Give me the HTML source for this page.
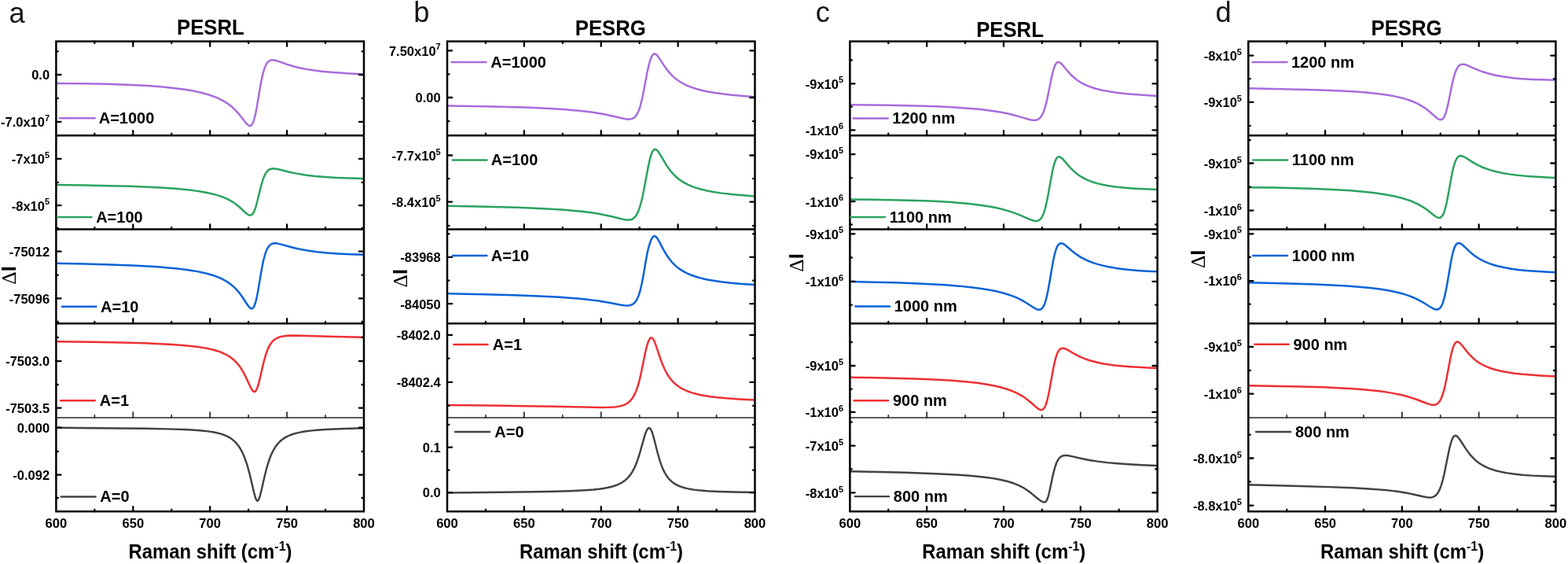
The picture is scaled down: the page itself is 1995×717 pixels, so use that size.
<!DOCTYPE html>
<html><head><meta charset="utf-8"><title>Figure</title><style>html,body{margin:0;padding:0;background:#fff;}svg{display:block;}</style></head><body>
<svg width="1995" height="717" viewBox="0 0 1995 717">
<style>.t{font-family:'Liberation Sans', Arial, Helvetica, sans-serif;font-weight:bold;fill:#000}.r{font-family:'Liberation Sans', Arial, Helvetica, sans-serif;font-weight:normal;fill:#1a1414}</style>
<rect width="1995" height="717" fill="#ffffff"/>
<defs><clipPath id="ca0"><rect x="71.4" y="42.6" width="391.6" height="139.6"/></clipPath><clipPath id="ca1"><rect x="71.4" y="162.2" width="391.6" height="139.3"/></clipPath><clipPath id="ca2"><rect x="71.4" y="281.5" width="391.6" height="139.8"/></clipPath><clipPath id="ca3"><rect x="71.4" y="401.3" width="391.6" height="139.5"/></clipPath><clipPath id="ca4"><rect x="71.4" y="520.8" width="391.6" height="139.4"/></clipPath></defs>
<path d="M71.4 105.99 L104.65 106.25 L134.4 106.81 L160.9 107.67 L184.15 108.83 L194.65 109.53 L204.65 110.32 L213.9 111.18 L222.65 112.14 L230.9 113.21 L238.4 114.34 L245.4 115.57 L251.9 116.89 L257.65 118.25 L262.9 119.67 L267.9 121.22 L272.4 122.82 L276.9 124.65 L280.9 126.53 L284.65 128.53 L288.15 130.67 L290.9 132.56 L293.65 134.67 L296.15 136.8 L298.65 139.15 L301.4 142.01 L304.15 145.18 L306.65 148.31 L311.65 154.85 L313.65 157.22 L314.9 158.47 L315.9 159.25 L316.9 159.78 L317.9 159.98 L318.9 159.77 L319.65 159.29 L320.4 158.49 L321.15 157.34 L321.9 155.81 L322.65 153.88 L324.15 148.74 L325.4 143.22 L326.65 136.72 L330.65 113.04 L332.4 103.45 L334.15 95.33 L335.65 89.73 L336.4 87.39 L337.4 84.73 L338.15 83.05 L339.15 81.19 L340.15 79.71 L341.15 78.56 L342.15 77.7 L343.4 76.95 L344.9 76.44 L346.4 76.25 L348.15 76.33 L350.15 76.68 L354.15 77.87 L366.65 82.32 L374.65 84.7 L379.65 85.94 L384.9 87.07 L390.65 88.14 L396.65 89.08 L409.15 90.65 L423.9 92.03 L441.4 93.24 L462.9 94.39" fill="none" stroke="#a86cdc" stroke-width="2.5" stroke-linejoin="round" clip-path="url(#ca0)"/>
<path d="M71.4 235.07 L108.4 235.56 L139.15 236.14 L165.65 236.86 L188.4 237.72 L208.4 238.78 L225.9 240.05 L240.9 241.53 L247.65 242.37 L253.9 243.28 L259.4 244.2 L264.4 245.16 L269.15 246.21 L273.65 247.36 L277.9 248.61 L281.65 249.87 L285.4 251.32 L288.9 252.86 L291.65 254.24 L294.15 255.63 L296.65 257.16 L298.9 258.69 L301.65 260.75 L304.4 263.02 L311.9 269.97 L314.15 271.87 L315.4 272.73 L316.4 273.26 L317.4 273.6 L318.4 273.69 L319.4 273.48 L320.15 273.1 L320.9 272.48 L321.65 271.62 L322.4 270.48 L323.15 269.07 L324.4 266.06 L325.65 262.27 L326.9 257.81 L331.15 240.39 L332.9 233.75 L334.65 228.11 L336.15 224.19 L337.9 220.66 L338.9 219.1 L339.9 217.83 L340.9 216.81 L341.9 216.02 L342.9 215.42 L344.15 214.88 L345.65 214.51 L347.15 214.35 L348.9 214.38 L351.15 214.64 L355.4 215.51 L369.15 218.93 L377.4 220.64 L382.9 221.6 L388.4 222.43 L400.65 223.9 L413.65 225.02 L428.15 225.9 L444.65 226.54 L462.9 226.95" fill="none" stroke="#2aa35f" stroke-width="2.5" stroke-linejoin="round" clip-path="url(#ca1)"/>
<path d="M71.4 334.76 L108.9 335.48 L141.15 336.38 L169.15 337.48 L193.4 338.81 L204.15 339.56 L214.15 340.38 L223.4 341.28 L231.9 342.24 L239.65 343.26 L246.9 344.39 L253.65 345.63 L259.65 346.91 L264.9 348.23 L269.9 349.68 L274.4 351.2 L278.65 352.87 L282.65 354.69 L286.15 356.53 L289.65 358.65 L292.9 360.92 L295.4 362.91 L297.9 365.13 L300.15 367.36 L302.4 369.83 L304.9 372.88 L307.4 376.27 L314.15 386.5 L316.15 389.3 L317.4 390.75 L318.4 391.64 L319.4 392.2 L320.15 392.34 L320.9 392.21 L321.65 391.76 L322.4 390.94 L323.15 389.73 L323.9 388.08 L324.65 385.98 L325.9 381.48 L326.9 377.01 L328.15 370.52 L332.15 346.85 L333.65 338.61 L335.4 330.35 L337.15 323.75 L337.9 321.43 L338.9 318.76 L339.9 316.54 L340.9 314.73 L341.9 313.26 L342.9 312.1 L344.15 311.01 L345.4 310.24 L347.15 309.6 L348.9 309.33 L350.9 309.33 L353.15 309.61 L357.65 310.64 L371.65 314.52 L380.15 316.49 L385.65 317.56 L391.4 318.54 L397.4 319.41 L403.65 320.19 L415.9 321.42 L429.65 322.43 L445.15 323.24 L462.9 323.87" fill="none" stroke="#0863d8" stroke-width="2.5" stroke-linejoin="round" clip-path="url(#ca2)"/>
<path d="M71.4 434.22 L117.65 434.82 L154.65 435.52 L184.65 436.37 L209.15 437.4 L219.65 438 L229.15 438.66 L237.9 439.41 L245.65 440.22 L252.65 441.12 L259.15 442.12 L265.15 443.26 L270.4 444.46 L275.15 445.78 L279.4 447.18 L283.4 448.76 L287.15 450.52 L290.65 452.49 L293.9 454.66 L296.9 457.03 L299.65 459.58 L301.65 461.71 L303.65 464.12 L305.65 466.82 L307.4 469.47 L309.4 472.84 L311.65 477.07 L313.65 481.2 L317.9 490.47 L319.9 494.36 L320.9 495.93 L321.9 497.12 L322.9 497.84 L323.65 498 L324.4 497.8 L324.9 497.46 L325.9 496.22 L326.9 494.24 L328.15 490.79 L329.15 487.35 L330.15 483.43 L334.15 465.92 L336.15 457.83 L338.4 450.13 L339.4 447.24 L340.65 444.05 L341.9 441.31 L343.15 438.96 L344.4 436.97 L345.9 434.97 L347.4 433.34 L348.9 432.01 L350.65 430.76 L352.4 429.78 L354.15 429.01 L356.15 428.34 L358.15 427.82 L360.4 427.4 L365.65 426.83 L372.4 426.6 L383.15 426.72 L426.9 428.02 L462.9 428.77" fill="none" stroke="#ee3033" stroke-width="2.5" stroke-linejoin="round" clip-path="url(#ca3)"/>
<path d="M71.4 543.72 L147.9 544.41 L184.65 544.83 L213.15 545.36 L234.15 546.03 L243.4 546.48 L251.65 547.03 L258.9 547.66 L265.15 548.39 L270.9 549.27 L275.9 550.26 L280.4 551.41 L284.4 552.71 L288.4 554.36 L291.9 556.2 L295.15 558.35 L297.9 560.6 L300.65 563.37 L303.15 566.46 L305.4 569.8 L307.65 573.81 L309.65 578.02 L311.4 582.29 L313.4 587.92 L315.15 593.53 L317.9 603.68 L323.15 625.95 L324.9 632.31 L325.65 634.33 L326.4 635.76 L327.15 636.51 L327.65 636.6 L327.9 636.53 L328.4 636.13 L329.15 634.97 L329.9 633.18 L330.65 630.88 L332.15 625.18 L336.4 606.54 L338.9 596.54 L340.15 592.08 L341.65 587.24 L343.15 582.92 L344.65 579.1 L346.15 575.72 L347.9 572.28 L349.65 569.29 L351.65 566.37 L353.65 563.88 L355.9 561.51 L358.15 559.5 L360.65 557.63 L363.4 555.91 L366.4 554.36 L369.65 552.98 L373.15 551.77 L377.15 550.64 L381.4 549.67 L386.15 548.79 L391.4 548.02 L397.15 547.35 L403.4 546.76 L418.65 545.74 L437.9 544.92 L462.9 544.21" fill="none" stroke="#424242" stroke-width="2.45" stroke-linejoin="round" clip-path="url(#ca4)"/>
<line x1="71.4" y1="172.2" x2="463" y2="172.2" stroke="#000" stroke-width="2.5"/>
<line x1="71.4" y1="291.5" x2="463" y2="291.5" stroke="#000" stroke-width="2.5"/>
<line x1="71.4" y1="411.3" x2="463" y2="411.3" stroke="#000" stroke-width="2.5"/>
<line x1="71.4" y1="531" x2="463" y2="531" stroke="#262626" stroke-width="1.7"/>
<rect x="71.4" y="52.6" width="391.6" height="597.6" fill="none" stroke="#000" stroke-width="2.5"/>
<path d="M120.35 172.2V169.75M169.3 172.2V166.05M218.25 172.2V169.75M267.2 172.2V166.05M316.15 172.2V169.75M365.1 172.2V166.05M414.05 172.2V169.75M120.35 52.6V55.05M169.3 52.6V58.75M218.25 52.6V55.05M267.2 52.6V58.75M316.15 52.6V55.05M365.1 52.6V58.75M414.05 52.6V55.05M120.35 291.5V289.05M169.3 291.5V285.35M218.25 291.5V289.05M267.2 291.5V285.35M316.15 291.5V289.05M365.1 291.5V285.35M414.05 291.5V289.05M120.35 411.3V408.85M169.3 411.3V405.15M218.25 411.3V408.85M267.2 411.3V405.15M316.15 411.3V408.85M365.1 411.3V405.15M414.05 411.3V408.85M120.35 650.2V647.75M169.3 650.2V644.05M218.25 650.2V647.75M267.2 650.2V644.05M316.15 650.2V647.75M365.1 650.2V644.05M414.05 650.2V647.75M71.4 65.3H73.85M463 65.3H460.55M71.4 95H77.55M463 95H456.85M71.4 125H73.85M463 125H460.55M71.4 154.8H77.55M463 154.8H456.85M71.4 172.2H73.85M463 172.2H460.55M71.4 201.9H77.55M463 201.9H456.85M71.4 231.9H73.85M463 231.9H460.55M71.4 261.2H77.55M463 261.2H456.85M71.4 291H73.85M463 291H460.55M71.4 290H73.85M463 290H460.55M71.4 319.7H77.55M463 319.7H456.85M71.4 349.7H73.85M463 349.7H460.55M71.4 379.3H77.55M463 379.3H456.85M71.4 409H73.85M463 409H460.55M71.4 429H73.85M463 429H460.55M71.4 459.1H77.55M463 459.1H456.85M71.4 489H73.85M463 489H460.55M71.4 518.6H77.55M463 518.6H456.85M71.4 543.7H77.55M463 543.7H456.85M71.4 574H73.85M463 574H460.55M71.4 603.6H77.55M463 603.6H456.85M71.4 633H73.85M463 633H460.55" stroke="#000" stroke-width="2.3" fill="none" stroke-linecap="round"/>
<path d="M120.35 531V527.8M169.3 531V524.1M218.25 531V527.8M267.2 531V524.1M316.15 531V527.8M365.1 531V524.1M414.05 531V527.8" stroke="#262626" stroke-width="1.7" fill="none" stroke-linecap="round"/>
<text class="t" transform="matrix(1 0 0 1.04 0 -4.06)" x="63.1" y="101.4" font-size="16.5" text-anchor="end">0.0</text>
<text class="t" transform="matrix(1 0 0 1.04 0 -6.45)" x="63.1" y="161.2" font-size="16.5" text-anchor="end">-7.0x10<tspan dy="-7" font-size="11">7</tspan></text>
<text class="t" transform="matrix(1 0 0 1.04 0 -8.33)" x="63.1" y="208.3" font-size="16.5" text-anchor="end">-7x10<tspan dy="-7" font-size="11">5</tspan></text>
<text class="t" transform="matrix(1 0 0 1.04 0 -10.7)" x="63.1" y="267.6" font-size="16.5" text-anchor="end">-8x10<tspan dy="-7" font-size="11">5</tspan></text>
<text class="t" transform="matrix(1 0 0 1.04 0 -13.04)" x="63.1" y="326.1" font-size="16.5" text-anchor="end">-75012</text>
<text class="t" transform="matrix(1 0 0 1.04 0 -15.43)" x="63.1" y="385.7" font-size="16.5" text-anchor="end">-75096</text>
<text class="t" transform="matrix(1 0 0 1.04 0 -18.62)" x="63.1" y="465.5" font-size="16.5" text-anchor="end">-7503.0</text>
<text class="t" transform="matrix(1 0 0 1.04 0 -21)" x="63.1" y="525" font-size="16.5" text-anchor="end">-7503.5</text>
<text class="t" transform="matrix(1 0 0 1.04 0 -22)" x="63.1" y="550.1" font-size="16.5" text-anchor="end">0.000</text>
<text class="t" transform="matrix(1 0 0 1.04 0 -24.4)" x="63.1" y="610" font-size="16.5" text-anchor="end">-0.092</text>
<line x1="75.85" y1="150.3" x2="120.55" y2="150.3" stroke="#a86cdc" stroke-width="2.5" stroke-linecap="round"/>
<text class="t" transform="matrix(1 0 0 1.04 0 -6.29)" x="125.7" y="157.2" font-size="20">A=1000</text>
<line x1="72.95" y1="276" x2="116.45" y2="276" stroke="#2aa35f" stroke-width="2.5" stroke-linecap="round"/>
<text class="t" transform="matrix(1 0 0 1.04 0 -11.32)" x="122.2" y="282.9" font-size="20">A=100</text>
<line x1="78.85" y1="389.7" x2="122.35" y2="389.7" stroke="#0863d8" stroke-width="2.5" stroke-linecap="round"/>
<text class="t" transform="matrix(1 0 0 1.04 0 -15.86)" x="128.1" y="396.6" font-size="20">A=10</text>
<line x1="77.15" y1="509.3" x2="120.65" y2="509.3" stroke="#ee3033" stroke-width="2.5" stroke-linecap="round"/>
<text class="t" transform="matrix(1 0 0 1.04 0 -20.65)" x="126.8" y="516.2" font-size="20">A=1</text>
<line x1="77.62" y1="631.4" x2="121.48" y2="631.4" stroke="#424242" stroke-width="2.45" stroke-linecap="round"/>
<text class="t" transform="matrix(1 0 0 1.04 0 -25.53)" x="127.3" y="638.3" font-size="20">A=0</text>
<text class="t" transform="matrix(1 0 0 1.04 0 -26.86)" x="71.4" y="671.5" font-size="16.6" text-anchor="middle">600</text>
<text class="t" transform="matrix(1 0 0 1.04 0 -26.86)" x="169.3" y="671.5" font-size="16.6" text-anchor="middle">650</text>
<text class="t" transform="matrix(1 0 0 1.04 0 -26.86)" x="267.2" y="671.5" font-size="16.6" text-anchor="middle">700</text>
<text class="t" transform="matrix(1 0 0 1.04 0 -26.86)" x="365.1" y="671.5" font-size="16.6" text-anchor="middle">750</text>
<text class="t" transform="matrix(1 0 0 1.04 0 -26.86)" x="463" y="671.5" font-size="16.6" text-anchor="middle">800</text>
<text class="t" transform="matrix(1 0 0 1.04 0 -28.4)" x="267.5" y="710" font-size="23.9" text-anchor="middle">Raman shift (cm<tspan dy="-9.6" font-size="16.01">-1</tspan><tspan dy="9.6">)</tspan></text>
<text class="t" transform="matrix(1 0 0 1.04 0 -1.75)" x="267.85" y="43.7" font-size="25.7" text-anchor="middle">PESRL</text>
<text class="r" transform="matrix(1 0 0 1 0 -0)" x="11.48" y="28.6" font-size="36.3">a</text>
<text transform="translate(20.2 349.9) rotate(-90)" text-anchor="middle" font-size="25.5" font-family="'Liberation Sans', Arial, Helvetica, sans-serif"><tspan font-family="'Liberation Serif', 'Times New Roman', serif">Δ</tspan><tspan font-weight="bold" font-size="25.5">I</tspan></text>
<defs><clipPath id="cb0"><rect x="569" y="42.6" width="391.5" height="139.6"/></clipPath><clipPath id="cb1"><rect x="569" y="162.2" width="391.5" height="139.3"/></clipPath><clipPath id="cb2"><rect x="569" y="281.5" width="391.5" height="139.8"/></clipPath><clipPath id="cb3"><rect x="569" y="401.3" width="391.5" height="139.5"/></clipPath><clipPath id="cb4"><rect x="569" y="520.8" width="391.5" height="139.4"/></clipPath></defs>
<path d="M569 134.58 L616.75 135.3 L656.75 136.28 L674 136.87 L689.75 137.54 L704 138.28 L717 139.11 L727.5 139.93 L737 140.81 L745.75 141.76 L754 142.83 L763 144.22 L771.5 145.79 L779 147.41 L791.25 150.32 L795.25 151.13 L797.75 151.47 L799.75 151.58 L801.5 151.5 L803.25 151.19 L804.75 150.68 L806.25 149.86 L807.5 148.89 L808.75 147.59 L810 145.89 L811 144.18 L812.25 141.56 L813.25 139.01 L814.25 136.03 L815.25 132.58 L817 125.41 L818.75 116.95 L823.5 91.83 L825 84.93 L826.25 79.99 L827.25 76.64 L828 74.5 L828.75 72.69 L829.5 71.21 L830.25 70.07 L831 69.24 L831.75 68.72 L832.75 68.46 L833.5 68.57 L834.5 69.04 L835.5 69.85 L836.75 71.2 L838.75 73.9 L844.75 83.12 L848 87.73 L851.75 92.37 L855.5 96.31 L857.5 98.16 L859.75 100.04 L862 101.75 L864.5 103.46 L867 105 L869.5 106.39 L872.25 107.77 L875 109.02 L878.25 110.33 L881.75 111.6 L885.5 112.8 L889.5 113.93 L898 115.94 L907.75 117.76 L918.5 119.33 L930.75 120.74 L944.75 122.01 L960.5 123.14" fill="none" stroke="#a86cdc" stroke-width="2.5" stroke-linejoin="round" clip-path="url(#cb0)"/>
<path d="M569 261.85 L618.25 262.74 L658.25 263.83 L675.5 264.47 L691 265.17 L705 265.94 L717.75 266.8 L728 267.63 L737.25 268.52 L746 269.52 L754 270.6 L762.75 272.02 L771.25 273.66 L778.5 275.3 L790.5 278.31 L794.5 279.15 L797 279.5 L799 279.62 L800.75 279.54 L802.5 279.22 L804.25 278.59 L805.75 277.72 L807.25 276.47 L808.5 275.07 L809.75 273.27 L811 271.02 L812.25 268.25 L813.5 264.91 L815.5 258.24 L817.75 248.76 L819.75 238.79 L824.5 213.17 L826 206.04 L827.25 200.94 L828.75 196.06 L829.5 194.16 L830.25 192.63 L831 191.45 L831.75 190.61 L832.5 190.09 L833 189.92 L833.5 189.86 L834.5 190.09 L835.5 190.71 L836.5 191.66 L837.75 193.19 L840 196.6 L845.75 206.44 L849 211.58 L850.75 214.11 L852.75 216.78 L854.5 218.92 L856.5 221.16 L858.5 223.21 L860.75 225.29 L863 227.17 L865.25 228.86 L867.75 230.56 L870.25 232.08 L872.75 233.45 L875.5 234.81 L878.75 236.24 L882.25 237.6 L886 238.88 L889.75 240.01 L893.75 241.08 L898.25 242.15 L907.75 243.99 L918.5 245.62 L930.75 247.05 L944.75 248.3 L960.5 249.39" fill="none" stroke="#2aa35f" stroke-width="2.5" stroke-linejoin="round" clip-path="url(#cb1)"/>
<path d="M569 373.24 L616.5 374.22 L654.75 375.28 L686.25 376.47 L712.5 377.86 L724.25 378.66 L735.25 379.56 L745.25 380.54 L754.5 381.62 L761.75 382.6 L769 383.72 L776.25 385 L789 387.41 L794.25 388.2 L796.75 388.4 L798.75 388.4 L800.5 388.25 L802.25 387.89 L804 387.25 L805.5 386.4 L807 385.18 L808.25 383.83 L809.5 382.08 L810.75 379.85 L812 377.06 L813 374.36 L814 371.18 L815 367.5 L816.75 359.78 L818.5 350.55 L822.75 326.03 L824 319.83 L825.25 314.54 L827 308.63 L828 305.94 L829 303.75 L830 302.05 L830.75 301.13 L831.5 300.51 L832 300.27 L832.5 300.17 L833.25 300.25 L834.25 300.77 L835.25 301.7 L836.5 303.33 L838.5 306.64 L844 317.05 L847.25 322.71 L850.75 327.98 L852.5 330.3 L854.5 332.72 L856.5 334.91 L858.5 336.89 L860.75 338.9 L863 340.71 L865.5 342.51 L868 344.11 L870.75 345.69 L873.5 347.1 L876.75 348.58 L880.25 349.98 L884 351.3 L887.75 352.46 L892 353.62 L896.5 354.69 L901.25 355.68 L906.25 356.59 L917.25 358.23 L930 359.68 L944.25 360.9 L960.5 361.96" fill="none" stroke="#0863d8" stroke-width="2.5" stroke-linejoin="round" clip-path="url(#cb2)"/>
<path d="M569 515.11 L623.5 515.6 L668.25 516.15 L705.25 516.78 L753 517.83 L765.5 517.97 L774.75 517.84 L781.75 517.41 L784.75 517.06 L787.5 516.61 L790 516.05 L792.25 515.39 L795 514.31 L797.5 512.98 L799.75 511.4 L801.75 509.59 L803.75 507.29 L805.5 504.77 L807.25 501.66 L808.75 498.42 L810.25 494.56 L811.5 490.81 L812.75 486.53 L814 481.69 L816.25 471.67 L821 448.24 L822.25 442.88 L823.25 439.15 L824.75 434.64 L826 431.9 L826.75 430.72 L827.5 429.89 L828.25 429.44 L828.75 429.34 L829.25 429.42 L829.75 429.67 L830.75 430.64 L831.75 432.22 L832.75 434.31 L834.5 438.87 L839.5 453.92 L842.25 461.48 L843.75 465.17 L845.5 469.06 L847 472.07 L848.75 475.22 L850.5 478.03 L852.5 480.86 L854.5 483.35 L856.5 485.54 L858.75 487.71 L861 489.6 L863.5 491.44 L866 493.05 L869.25 494.85 L872.5 496.38 L876 497.79 L879.75 499.08 L884 500.33 L888.5 501.44 L893.25 502.43 L898.5 503.36 L904.25 504.22 L910.25 504.98 L924.25 506.33 L940.75 507.46 L960.5 508.4" fill="none" stroke="#ee3033" stroke-width="2.5" stroke-linejoin="round" clip-path="url(#cb3)"/>
<path d="M569 626.47 L637 625.8 L677.25 625.29 L707.25 624.71 L729.5 624 L739 623.55 L747.5 623.03 L755 622.42 L761.5 621.74 L767.25 620.96 L772.5 620.04 L777.25 618.98 L781.5 617.77 L785.5 616.31 L789 614.71 L792.25 612.85 L795 610.89 L797.5 608.74 L800 606.12 L802.25 603.26 L804.5 599.83 L806.25 596.67 L808 593.01 L809.75 588.8 L811.5 583.99 L814.25 575.21 L819.5 556.37 L821.5 550.25 L822.75 547.29 L823.75 545.56 L824.75 544.46 L825.25 544.16 L825.75 544.05 L826.25 544.11 L826.75 544.37 L827.25 544.81 L827.75 545.44 L828.75 547.24 L830 550.44 L832 557.22 L836.5 575 L838.75 583.07 L841.25 590.66 L842.5 593.92 L844 597.39 L845.5 600.42 L847 603.06 L848.75 605.73 L850.5 608.02 L852.5 610.23 L854.5 612.11 L856.75 613.88 L859 615.36 L861.75 616.86 L864.5 618.09 L867.5 619.19 L871 620.23 L874.75 621.13 L879 621.94 L883.5 622.62 L888.75 623.24 L900.5 624.2 L915.5 624.94 L934.75 625.5 L960.5 625.95" fill="none" stroke="#424242" stroke-width="2.45" stroke-linejoin="round" clip-path="url(#cb4)"/>
<line x1="569" y1="172.2" x2="960.5" y2="172.2" stroke="#000" stroke-width="2.5"/>
<line x1="569" y1="291.5" x2="960.5" y2="291.5" stroke="#000" stroke-width="2.5"/>
<line x1="569" y1="411.3" x2="960.5" y2="411.3" stroke="#000" stroke-width="2.5"/>
<line x1="569" y1="531" x2="960.5" y2="531" stroke="#262626" stroke-width="1.7"/>
<rect x="569" y="52.6" width="391.5" height="597.6" fill="none" stroke="#000" stroke-width="2.5"/>
<path d="M617.94 172.2V169.75M666.88 172.2V166.05M715.81 172.2V169.75M764.75 172.2V166.05M813.69 172.2V169.75M862.62 172.2V166.05M911.56 172.2V169.75M617.94 52.6V55.05M666.88 52.6V58.75M715.81 52.6V55.05M764.75 52.6V58.75M813.69 52.6V55.05M862.62 52.6V58.75M911.56 52.6V55.05M617.94 291.5V289.05M666.88 291.5V285.35M715.81 291.5V289.05M764.75 291.5V285.35M813.69 291.5V289.05M862.62 291.5V285.35M911.56 291.5V289.05M617.94 411.3V408.85M666.88 411.3V405.15M715.81 411.3V408.85M764.75 411.3V405.15M813.69 411.3V408.85M862.62 411.3V405.15M911.56 411.3V408.85M617.94 650.2V647.75M666.88 650.2V644.05M715.81 650.2V647.75M764.75 650.2V644.05M813.69 650.2V647.75M862.62 650.2V644.05M911.56 650.2V647.75M569 64.3H575.15M960.5 64.3H954.35M569 94.4H571.45M960.5 94.4H958.05M569 124H575.15M960.5 124H954.35M569 154.2H571.45M960.5 154.2H958.05M569 197.5H575.15M960.5 197.5H954.35M569 227.1H571.45M960.5 227.1H958.05M569 256.6H575.15M960.5 256.6H954.35M569 287H571.45M960.5 287H958.05M569 297.3H571.45M960.5 297.3H958.05M569 326.9H575.15M960.5 326.9H954.35M569 356.6H571.45M960.5 356.6H958.05M569 386.2H575.15M960.5 386.2H954.35M569 425.8H575.15M960.5 425.8H954.35M569 455.6H571.45M960.5 455.6H958.05M569 485.9H575.15M960.5 485.9H954.35M569 515.8H571.45M960.5 515.8H958.05M569 539.8H571.45M960.5 539.8H958.05M569 568.6H575.15M960.5 568.6H954.35M569 597.7H571.45M960.5 597.7H958.05M569 626.1H575.15M960.5 626.1H954.35" stroke="#000" stroke-width="2.3" fill="none" stroke-linecap="round"/>
<path d="M617.94 531V527.8M666.88 531V524.1M715.81 531V527.8M764.75 531V524.1M813.69 531V527.8M862.62 531V524.1M911.56 531V527.8" stroke="#262626" stroke-width="1.7" fill="none" stroke-linecap="round"/>
<text class="t" transform="matrix(1 0 0 1.04 0 -2.83)" x="560.7" y="70.7" font-size="16.5" text-anchor="end">7.50x10<tspan dy="-7" font-size="11">7</tspan></text>
<text class="t" transform="matrix(1 0 0 1.04 0 -5.22)" x="560.7" y="130.4" font-size="16.5" text-anchor="end">0.00</text>
<text class="t" transform="matrix(1 0 0 1.04 0 -8.16)" x="560.7" y="203.9" font-size="16.5" text-anchor="end">-7.7x10<tspan dy="-7" font-size="11">5</tspan></text>
<text class="t" transform="matrix(1 0 0 1.04 0 -10.52)" x="560.7" y="263" font-size="16.5" text-anchor="end">-8.4x10<tspan dy="-7" font-size="11">5</tspan></text>
<text class="t" transform="matrix(1 0 0 1.04 0 -13.33)" x="560.7" y="333.3" font-size="16.5" text-anchor="end">-83968</text>
<text class="t" transform="matrix(1 0 0 1.04 0 -15.7)" x="560.7" y="392.6" font-size="16.5" text-anchor="end">-84050</text>
<text class="t" transform="matrix(1 0 0 1.04 0 -17.29)" x="560.7" y="432.2" font-size="16.5" text-anchor="end">-8402.0</text>
<text class="t" transform="matrix(1 0 0 1.04 0 -19.69)" x="560.7" y="492.3" font-size="16.5" text-anchor="end">-8402.4</text>
<text class="t" transform="matrix(1 0 0 1.04 0 -23)" x="560.7" y="575" font-size="16.5" text-anchor="end">0.1</text>
<text class="t" transform="matrix(1 0 0 1.04 0 -25.3)" x="560.7" y="632.5" font-size="16.5" text-anchor="end">0.0</text>
<line x1="574.65" y1="79" x2="618.45" y2="79" stroke="#a86cdc" stroke-width="2.5" stroke-linecap="round"/>
<text class="t" transform="matrix(1 0 0 1.04 0 -3.44)" x="624.3" y="85.9" font-size="20">A=1000</text>
<line x1="575.85" y1="203.5" x2="619.35" y2="203.5" stroke="#2aa35f" stroke-width="2.5" stroke-linecap="round"/>
<text class="t" transform="matrix(1 0 0 1.04 0 -8.42)" x="624.8" y="210.4" font-size="20">A=100</text>
<line x1="575.85" y1="325" x2="619.35" y2="325" stroke="#0863d8" stroke-width="2.5" stroke-linecap="round"/>
<text class="t" transform="matrix(1 0 0 1.04 0 -13.28)" x="624.8" y="331.9" font-size="20">A=10</text>
<line x1="577.45" y1="437.9" x2="620.65" y2="437.9" stroke="#ee3033" stroke-width="2.5" stroke-linecap="round"/>
<text class="t" transform="matrix(1 0 0 1.04 0 -17.79)" x="626.8" y="444.8" font-size="20">A=1</text>
<line x1="579.12" y1="548.9" x2="623.07" y2="548.9" stroke="#424242" stroke-width="2.45" stroke-linecap="round"/>
<text class="t" transform="matrix(1 0 0 1.04 0 -22.23)" x="629.3" y="555.8" font-size="20">A=0</text>
<text class="t" transform="matrix(1 0 0 1.04 0 -26.86)" x="569" y="671.5" font-size="16.6" text-anchor="middle">600</text>
<text class="t" transform="matrix(1 0 0 1.04 0 -26.86)" x="666.88" y="671.5" font-size="16.6" text-anchor="middle">650</text>
<text class="t" transform="matrix(1 0 0 1.04 0 -26.86)" x="764.75" y="671.5" font-size="16.6" text-anchor="middle">700</text>
<text class="t" transform="matrix(1 0 0 1.04 0 -26.86)" x="862.62" y="671.5" font-size="16.6" text-anchor="middle">750</text>
<text class="t" transform="matrix(1 0 0 1.04 0 -26.86)" x="960.5" y="671.5" font-size="16.6" text-anchor="middle">800</text>
<text class="t" transform="matrix(1 0 0 1.04 0 -28.4)" x="765.05" y="710" font-size="23.9" text-anchor="middle">Raman shift (cm<tspan dy="-9.6" font-size="16.01">-1</tspan><tspan dy="9.6">)</tspan></text>
<text class="t" transform="matrix(1 0 0 1.04 0 -1.82)" x="776.75" y="45.4" font-size="25.7" text-anchor="middle">PESRG</text>
<text class="r" transform="matrix(1 0 0 1 0 -0)" x="526.14" y="28.3" font-size="36.3">b</text>
<text transform="translate(518 353.7) rotate(-90)" text-anchor="middle" font-size="25.5" font-family="'Liberation Sans', Arial, Helvetica, sans-serif"><tspan font-family="'Liberation Serif', 'Times New Roman', serif">Δ</tspan><tspan font-weight="bold" font-size="25.5">I</tspan></text>
<defs><clipPath id="cc0"><rect x="1081.4" y="42.6" width="391.2" height="139.6"/></clipPath><clipPath id="cc1"><rect x="1081.4" y="162.2" width="391.2" height="139.3"/></clipPath><clipPath id="cc2"><rect x="1081.4" y="281.5" width="391.2" height="139.8"/></clipPath><clipPath id="cc3"><rect x="1081.4" y="401.3" width="391.2" height="139.5"/></clipPath><clipPath id="cc4"><rect x="1081.4" y="520.8" width="391.2" height="139.4"/></clipPath></defs>
<path d="M1081.4 133.22 L1131.65 133.79 L1153.4 134.22 L1173.15 134.74 L1190.9 135.36 L1206.9 136.08 L1221.4 136.91 L1234.65 137.88 L1245.4 138.86 L1255.15 139.94 L1264.15 141.15 L1272.4 142.49 L1280.65 144.09 L1288.65 145.95 L1295.65 147.84 L1307.4 151.33 L1310.9 152.22 L1313.15 152.65 L1314.9 152.84 L1316.65 152.85 L1318.15 152.67 L1319.65 152.25 L1321.15 151.52 L1322.4 150.61 L1323.65 149.36 L1324.9 147.7 L1325.9 146.04 L1326.9 144.03 L1327.9 141.64 L1329.65 136.45 L1331.65 128.88 L1333.65 119.75 L1337.9 98.61 L1339.15 93.15 L1340.4 88.48 L1341.9 84.12 L1342.65 82.47 L1343.4 81.16 L1344.15 80.18 L1344.9 79.51 L1345.65 79.11 L1346.4 78.95 L1347.15 79.02 L1348.15 79.38 L1349.15 80.01 L1350.4 81.07 L1352.65 83.49 L1358.4 90.43 L1361.65 94.07 L1365.4 97.75 L1369.4 101.08 L1373.65 104.02 L1378.15 106.59 L1383.15 108.93 L1388.65 111.01 L1395.15 112.98 L1402.65 114.78 L1410.9 116.33 L1420.4 117.74 L1431.15 118.99 L1443.15 120.1 L1456.9 121.1 L1472.4 122" fill="none" stroke="#a86cdc" stroke-width="2.5" stroke-linejoin="round" clip-path="url(#cc0)"/>
<path d="M1081.4 253.53 L1109.15 253.78 L1134.15 254.16 L1156.4 254.67 L1176.4 255.32 L1194.15 256.11 L1210.15 257.06 L1224.65 258.2 L1237.65 259.52 L1248.65 260.92 L1258.65 262.51 L1267.9 264.31 L1276.4 266.33 L1284.65 268.69 L1292.4 271.36 L1298.15 273.63 L1309.4 278.57 L1313.15 280.02 L1314.9 280.55 L1316.65 280.9 L1318.15 281.01 L1319.65 280.87 L1320.9 280.51 L1322.15 279.86 L1323.4 278.85 L1324.4 277.74 L1325.4 276.3 L1326.4 274.5 L1327.4 272.28 L1328.4 269.61 L1330.15 263.72 L1332.15 255.08 L1333.9 246.05 L1338.15 222.34 L1339.65 215.07 L1340.9 209.99 L1342.4 205.24 L1343.15 203.44 L1343.9 201.99 L1344.65 200.89 L1345.65 199.9 L1346.4 199.48 L1347.4 199.3 L1348.15 199.4 L1349.15 199.79 L1350.15 200.43 L1351.4 201.48 L1353.65 203.82 L1359.65 210.86 L1363.15 214.66 L1366.9 218.25 L1370.9 221.52 L1375.15 224.43 L1379.9 227.12 L1384.9 229.42 L1390.4 231.47 L1396.9 233.39 L1404.15 235.06 L1412.15 236.47 L1421.4 237.71 L1431.65 238.75 L1443.4 239.63 L1456.9 240.37 L1472.4 241" fill="none" stroke="#2aa35f" stroke-width="2.5" stroke-linejoin="round" clip-path="url(#cc1)"/>
<path d="M1081.4 358.07 L1111.9 358.63 L1138.9 359.32 L1162.9 360.15 L1184.15 361.13 L1203.4 362.29 L1220.4 363.63 L1235.4 365.16 L1248.9 366.93 L1259.9 368.75 L1269.9 370.84 L1274.4 371.96 L1278.9 373.2 L1282.9 374.45 L1286.9 375.83 L1290.4 377.18 L1293.9 378.67 L1297.15 380.2 L1300.4 381.89 L1305.4 384.78 L1314.65 390.77 L1317.65 392.5 L1318.9 393.07 L1320.15 393.5 L1321.15 393.72 L1322.15 393.77 L1323.4 393.57 L1324.4 393.13 L1325.4 392.4 L1326.4 391.31 L1327.4 389.82 L1328.4 387.85 L1329.4 385.36 L1330.15 383.11 L1331.65 377.61 L1333.4 369.51 L1334.9 361.35 L1339.4 334.94 L1340.65 328.55 L1341.9 323.05 L1343.4 317.77 L1344.15 315.67 L1345.15 313.41 L1345.9 312.08 L1346.9 310.76 L1347.9 309.89 L1348.9 309.41 L1349.9 309.24 L1351.15 309.39 L1352.65 309.97 L1354.15 310.87 L1356.65 312.76 L1363.65 318.77 L1367.65 321.95 L1372.15 325.1 L1376.65 327.82 L1381.15 330.14 L1385.9 332.24 L1390.9 334.11 L1396.4 335.86 L1403.15 337.64 L1410.65 339.25 L1418.65 340.64 L1427.65 341.9 L1437.4 342.98 L1447.9 343.89 L1459.65 344.67 L1472.4 345.31" fill="none" stroke="#0863d8" stroke-width="2.5" stroke-linejoin="round" clip-path="url(#cc2)"/>
<path d="M1081.4 479.69 L1116.15 480.26 L1145.65 480.93 L1170.9 481.74 L1192.9 482.71 L1211.9 483.86 L1228.4 485.22 L1243.15 486.85 L1249.65 487.74 L1255.9 488.73 L1261.4 489.73 L1266.65 490.81 L1271.65 491.99 L1276.4 493.26 L1280.65 494.55 L1284.9 496.01 L1288.9 497.57 L1292.65 499.23 L1298.15 502.06 L1300.9 503.69 L1303.4 505.31 L1306.4 507.44 L1309.65 509.99 L1317.9 517.19 L1320.15 519.01 L1321.4 519.87 L1322.65 520.56 L1323.9 520.99 L1324.9 521.1 L1325.9 520.93 L1326.65 520.59 L1327.65 519.8 L1328.4 518.91 L1329.15 517.74 L1329.9 516.26 L1330.65 514.44 L1331.4 512.27 L1332.65 507.84 L1334.15 501.25 L1335.65 493.49 L1340.15 468.31 L1341.65 461.15 L1342.9 456.12 L1343.65 453.55 L1344.65 450.62 L1345.4 448.79 L1346.4 446.8 L1347.4 445.28 L1348.4 444.17 L1349.4 443.41 L1350.4 442.93 L1351.65 442.68 L1352.9 442.71 L1354.4 443.05 L1356.15 443.71 L1358.9 445.11 L1366.4 449.49 L1370.65 451.8 L1375.4 454.07 L1380.4 456.12 L1384.9 457.7 L1389.4 459.05 L1394.15 460.29 L1399.4 461.45 L1405.9 462.65 L1412.9 463.71 L1420.65 464.67 L1429.15 465.51 L1438.4 466.24 L1448.65 466.87 L1459.9 467.42 L1472.4 467.88" fill="none" stroke="#ee3033" stroke-width="2.5" stroke-linejoin="round" clip-path="url(#cc3)"/>
<path d="M1081.4 599.18 L1119.65 599.98 L1151.4 600.81 L1178.15 601.69 L1200.9 602.66 L1220.4 603.77 L1236.9 605.01 L1251.15 606.46 L1257.4 607.25 L1263.4 608.13 L1268.65 609.03 L1273.4 609.96 L1277.9 610.97 L1282.15 612.06 L1286.15 613.25 L1289.9 614.52 L1293.4 615.87 L1296.65 617.3 L1299.65 618.78 L1302.4 620.3 L1305.15 621.99 L1307.65 623.68 L1312.15 627.1 L1320.4 633.96 L1323.65 636.35 L1325.4 637.43 L1326.65 638.03 L1327.65 638.36 L1328.65 638.47 L1329.4 638.33 L1330.15 637.95 L1330.9 637.25 L1331.4 636.58 L1332.15 635.22 L1332.65 634.07 L1333.65 631.16 L1334.4 628.47 L1335.4 624.31 L1338.9 607.52 L1340.4 600.86 L1342.15 594.32 L1343.9 589.23 L1344.65 587.48 L1345.65 585.49 L1346.65 583.87 L1347.65 582.56 L1348.65 581.53 L1349.65 580.72 L1350.9 579.99 L1352.15 579.49 L1353.65 579.15 L1355.4 579 L1357.15 579.05 L1359.4 579.31 L1363.65 580.13 L1377.4 583.28 L1385.9 584.93 L1396.9 586.64 L1409.15 588.1 L1422.15 589.27 L1436.9 590.29 L1453.4 591.16 L1472.4 591.91" fill="none" stroke="#424242" stroke-width="2.45" stroke-linejoin="round" clip-path="url(#cc4)"/>
<line x1="1081.4" y1="172.2" x2="1472.6" y2="172.2" stroke="#000" stroke-width="2.5"/>
<line x1="1081.4" y1="291.5" x2="1472.6" y2="291.5" stroke="#000" stroke-width="2.5"/>
<line x1="1081.4" y1="411.3" x2="1472.6" y2="411.3" stroke="#000" stroke-width="2.5"/>
<line x1="1081.4" y1="531" x2="1472.6" y2="531" stroke="#262626" stroke-width="1.7"/>
<rect x="1081.4" y="52.6" width="391.2" height="597.6" fill="none" stroke="#000" stroke-width="2.5"/>
<path d="M1130.3 172.2V169.75M1179.2 172.2V166.05M1228.1 172.2V169.75M1277 172.2V166.05M1325.9 172.2V169.75M1374.8 172.2V166.05M1423.7 172.2V169.75M1130.3 52.6V55.05M1179.2 52.6V58.75M1228.1 52.6V55.05M1277 52.6V58.75M1325.9 52.6V55.05M1374.8 52.6V58.75M1423.7 52.6V55.05M1130.3 291.5V289.05M1179.2 291.5V285.35M1228.1 291.5V289.05M1277 291.5V285.35M1325.9 291.5V289.05M1374.8 291.5V285.35M1423.7 291.5V289.05M1130.3 411.3V408.85M1179.2 411.3V405.15M1228.1 411.3V408.85M1277 411.3V405.15M1325.9 411.3V408.85M1374.8 411.3V405.15M1423.7 411.3V408.85M1130.3 650.2V647.75M1179.2 650.2V644.05M1228.1 650.2V647.75M1277 650.2V644.05M1325.9 650.2V647.75M1374.8 650.2V644.05M1423.7 650.2V647.75M1081.4 76.5H1083.85M1472.6 76.5H1470.15M1081.4 106.3H1087.55M1472.6 106.3H1466.45M1081.4 135.7H1083.85M1472.6 135.7H1470.15M1081.4 165.3H1087.55M1472.6 165.3H1466.45M1081.4 196.1H1087.55M1472.6 196.1H1466.45M1081.4 226.1H1083.85M1472.6 226.1H1470.15M1081.4 256.2H1087.55M1472.6 256.2H1466.45M1081.4 285.5H1083.85M1472.6 285.5H1470.15M1081.4 297.3H1087.55M1472.6 297.3H1466.45M1081.4 327.5H1083.85M1472.6 327.5H1470.15M1081.4 357.9H1087.55M1472.6 357.9H1466.45M1081.4 387.6H1083.85M1472.6 387.6H1470.15M1081.4 435H1083.85M1472.6 435H1470.15M1081.4 465H1087.55M1472.6 465H1466.45M1081.4 494.6H1083.85M1472.6 494.6H1470.15M1081.4 523.9H1087.55M1472.6 523.9H1466.45M1081.4 536.6H1083.85M1472.6 536.6H1470.15M1081.4 566.7H1087.55M1472.6 566.7H1466.45M1081.4 596.3H1083.85M1472.6 596.3H1470.15M1081.4 626.4H1087.55M1472.6 626.4H1466.45" stroke="#000" stroke-width="2.3" fill="none" stroke-linecap="round"/>
<path d="M1130.3 531V527.8M1179.2 531V524.1M1228.1 531V527.8M1277 531V524.1M1325.9 531V527.8M1374.8 531V524.1M1423.7 531V527.8" stroke="#262626" stroke-width="1.7" fill="none" stroke-linecap="round"/>
<text class="t" transform="matrix(1 0 0 1.04 0 -4.51)" x="1073.1" y="112.7" font-size="16.5" text-anchor="end">-9x10<tspan dy="-7" font-size="11">5</tspan></text>
<text class="t" transform="matrix(1 0 0 1.04 0 -6.87)" x="1073.1" y="171.7" font-size="16.5" text-anchor="end">-1x10<tspan dy="-7" font-size="11">6</tspan></text>
<text class="t" transform="matrix(1 0 0 1.04 0 -8.1)" x="1073.1" y="202.5" font-size="16.5" text-anchor="end">-9x10<tspan dy="-7" font-size="11">5</tspan></text>
<text class="t" transform="matrix(1 0 0 1.04 0 -10.5)" x="1073.1" y="262.6" font-size="16.5" text-anchor="end">-1x10<tspan dy="-7" font-size="11">6</tspan></text>
<text class="t" transform="matrix(1 0 0 1.04 0 -12.15)" x="1073.1" y="303.7" font-size="16.5" text-anchor="end">-9x10<tspan dy="-7" font-size="11">5</tspan></text>
<text class="t" transform="matrix(1 0 0 1.04 0 -14.57)" x="1073.1" y="364.3" font-size="16.5" text-anchor="end">-1x10<tspan dy="-7" font-size="11">6</tspan></text>
<text class="t" transform="matrix(1 0 0 1.04 0 -18.86)" x="1073.1" y="471.4" font-size="16.5" text-anchor="end">-9x10<tspan dy="-7" font-size="11">5</tspan></text>
<text class="t" transform="matrix(1 0 0 1.04 0 -21.21)" x="1073.1" y="530.3" font-size="16.5" text-anchor="end">-1x10<tspan dy="-7" font-size="11">6</tspan></text>
<text class="t" transform="matrix(1 0 0 1.04 0 -22.92)" x="1073.1" y="573.1" font-size="16.5" text-anchor="end">-7x10<tspan dy="-7" font-size="11">5</tspan></text>
<text class="t" transform="matrix(1 0 0 1.04 0 -25.31)" x="1073.1" y="632.8" font-size="16.5" text-anchor="end">-8x10<tspan dy="-7" font-size="11">5</tspan></text>
<line x1="1085.65" y1="150.4" x2="1129.75" y2="150.4" stroke="#a86cdc" stroke-width="2.5" stroke-linecap="round"/>
<text class="t" transform="matrix(1 0 0 1.04 0 -6.29)" x="1135.3" y="157.3" font-size="20">1200 nm</text>
<line x1="1082.25" y1="276" x2="1125.95" y2="276" stroke="#2aa35f" stroke-width="2.5" stroke-linecap="round"/>
<text class="t" transform="matrix(1 0 0 1.04 0 -11.32)" x="1131.8" y="282.9" font-size="20">1100 nm</text>
<line x1="1088.35" y1="389.6" x2="1132.15" y2="389.6" stroke="#0863d8" stroke-width="2.5" stroke-linecap="round"/>
<text class="t" transform="matrix(1 0 0 1.04 0 -15.86)" x="1137.7" y="396.5" font-size="20">1000 nm</text>
<line x1="1086.65" y1="509.3" x2="1129.95" y2="509.3" stroke="#ee3033" stroke-width="2.5" stroke-linecap="round"/>
<text class="t" transform="matrix(1 0 0 1.04 0 -20.65)" x="1136" y="516.2" font-size="20">900 nm</text>
<line x1="1087.82" y1="631.1" x2="1130.98" y2="631.1" stroke="#424242" stroke-width="2.45" stroke-linecap="round"/>
<text class="t" transform="matrix(1 0 0 1.04 0 -25.52)" x="1136.8" y="638" font-size="20">800 nm</text>
<text class="t" transform="matrix(1 0 0 1.04 0 -26.86)" x="1081.4" y="671.5" font-size="16.6" text-anchor="middle">600</text>
<text class="t" transform="matrix(1 0 0 1.04 0 -26.86)" x="1179.2" y="671.5" font-size="16.6" text-anchor="middle">650</text>
<text class="t" transform="matrix(1 0 0 1.04 0 -26.86)" x="1277" y="671.5" font-size="16.6" text-anchor="middle">700</text>
<text class="t" transform="matrix(1 0 0 1.04 0 -26.86)" x="1374.8" y="671.5" font-size="16.6" text-anchor="middle">750</text>
<text class="t" transform="matrix(1 0 0 1.04 0 -26.86)" x="1472.6" y="671.5" font-size="16.6" text-anchor="middle">800</text>
<text class="t" transform="matrix(1 0 0 1.04 0 -28.4)" x="1277.3" y="710" font-size="23.9" text-anchor="middle">Raman shift (cm<tspan dy="-9.6" font-size="16.01">-1</tspan><tspan dy="9.6">)</tspan></text>
<text class="t" transform="matrix(1 0 0 1.04 0 -1.88)" x="1285.05" y="47.1" font-size="25.7" text-anchor="middle">PESRL</text>
<text class="r" transform="matrix(1 0 0 1 0 -0)" x="1037.85" y="28.1" font-size="36.3">c</text>
<text transform="translate(1021.9 333.9) rotate(-90)" text-anchor="middle" font-size="25.5" font-family="'Liberation Sans', Arial, Helvetica, sans-serif"><tspan font-family="'Liberation Serif', 'Times New Roman', serif">Δ</tspan><tspan font-weight="bold" font-size="25.5">I</tspan></text>
<defs><clipPath id="cd0"><rect x="1588.3" y="42.6" width="391.1" height="139.6"/></clipPath><clipPath id="cd1"><rect x="1588.3" y="162.2" width="391.1" height="139.3"/></clipPath><clipPath id="cd2"><rect x="1588.3" y="281.5" width="391.1" height="139.8"/></clipPath><clipPath id="cd3"><rect x="1588.3" y="401.3" width="391.1" height="139.5"/></clipPath><clipPath id="cd4"><rect x="1588.3" y="520.8" width="391.1" height="139.4"/></clipPath></defs>
<path d="M1588.3 112.26 L1663.55 113.92 L1686.8 114.64 L1706.3 115.46 L1724.3 116.48 L1740.05 117.72 L1753.8 119.18 L1760.05 120 L1766.05 120.92 L1771.55 121.88 L1776.55 122.89 L1781.3 123.97 L1785.8 125.15 L1790.05 126.41 L1794.05 127.77 L1797.8 129.21 L1801.55 130.85 L1804.8 132.45 L1807.8 134.1 L1810.8 135.95 L1813.8 138 L1818.3 141.5 L1826.3 148.56 L1829.05 150.72 L1830.3 151.48 L1831.3 151.92 L1832.3 152.18 L1833.05 152.23 L1834.05 152.03 L1834.8 151.67 L1835.8 150.85 L1836.55 149.94 L1837.55 148.29 L1838.3 146.71 L1839.8 142.57 L1841.05 138.15 L1842.55 131.79 L1846.8 110.83 L1848.55 102.82 L1850.3 96.07 L1851.8 91.46 L1853.3 87.91 L1854.05 86.51 L1855.05 84.99 L1855.8 84.08 L1856.8 83.13 L1857.8 82.46 L1858.8 82.02 L1860.05 81.73 L1861.3 81.67 L1862.8 81.83 L1864.3 82.18 L1868.05 83.54 L1876.55 87.32 L1880.8 89.09 L1884.8 90.6 L1889.05 92.03 L1894.3 93.58 L1899.8 94.96 L1905.55 96.18 L1911.8 97.3 L1918.55 98.29 L1925.8 99.16 L1933.55 99.9 L1941.55 100.5 L1950.05 100.97 L1959.3 101.33 L1969.05 101.56 L1979.3 101.67" fill="none" stroke="#a86cdc" stroke-width="2.5" stroke-linejoin="round" clip-path="url(#cd0)"/>
<path d="M1588.3 238.15 L1620.55 238.6 L1648.8 239.21 L1673.55 239.97 L1695.3 240.92 L1714.8 242.08 L1732.05 243.46 L1747.3 245.08 L1754.05 245.96 L1760.55 246.93 L1766.3 247.91 L1771.8 248.97 L1776.8 250.07 L1781.55 251.24 L1786.05 252.5 L1790.3 253.85 L1794.3 255.27 L1798.05 256.78 L1803.8 259.46 L1809.05 262.39 L1812.05 264.31 L1815.3 266.58 L1823.8 273.22 L1826.3 275.03 L1827.55 275.79 L1828.8 276.39 L1830.05 276.78 L1831.05 276.88 L1832.05 276.74 L1833.05 276.31 L1834.05 275.53 L1834.8 274.68 L1835.55 273.56 L1836.3 272.16 L1837.05 270.45 L1837.8 268.4 L1839.3 263.27 L1840.8 256.79 L1842.55 247.8 L1847.05 222.81 L1848.55 215.75 L1849.8 210.81 L1851.3 206.11 L1852.05 204.23 L1853.05 202.2 L1854.05 200.65 L1855.05 199.53 L1856.05 198.77 L1857.05 198.31 L1858.3 198.1 L1859.55 198.19 L1861.05 198.6 L1862.55 199.24 L1865.3 200.78 L1872.8 205.59 L1877.05 208.12 L1881.8 210.61 L1886.55 212.75 L1891.05 214.5 L1895.8 216.08 L1900.8 217.51 L1906.05 218.79 L1912.8 220.17 L1920.05 221.38 L1928.05 222.46 L1936.55 223.38 L1945.8 224.18 L1956.05 224.86 L1967.05 225.43 L1979.3 225.9" fill="none" stroke="#2aa35f" stroke-width="2.5" stroke-linejoin="round" clip-path="url(#cd1)"/>
<path d="M1588.3 359.25 L1621.8 359.95 L1650.05 360.69 L1674.3 361.51 L1695.05 362.41 L1713.3 363.44 L1729.3 364.63 L1743.3 365.98 L1755.8 367.55 L1766.3 369.24 L1775.8 371.17 L1780.3 372.26 L1784.55 373.42 L1788.55 374.64 L1792.3 375.91 L1795.8 377.23 L1799.3 378.68 L1802.55 380.17 L1805.8 381.8 L1811.05 384.73 L1820.3 390.49 L1823.3 392.17 L1824.8 392.85 L1826.05 393.27 L1827.3 393.51 L1828.3 393.54 L1829.55 393.32 L1830.8 392.73 L1831.8 391.94 L1832.8 390.79 L1833.8 389.24 L1834.55 387.78 L1835.55 385.38 L1836.3 383.22 L1838.05 376.91 L1839.8 368.81 L1841.55 359.2 L1845.8 334.14 L1847.05 327.73 L1848.3 322.22 L1849.8 316.96 L1850.55 314.89 L1851.55 312.68 L1852.3 311.41 L1853.3 310.18 L1854.05 309.57 L1855.05 309.11 L1856.05 308.99 L1857.3 309.23 L1858.55 309.8 L1860.05 310.79 L1862.3 312.68 L1869.05 319.09 L1872.8 322.4 L1877.05 325.69 L1881.3 328.52 L1885.55 330.92 L1890.3 333.18 L1895.3 335.17 L1900.8 336.98 L1907.55 338.79 L1914.8 340.34 L1922.8 341.7 L1931.8 342.9 L1941.8 343.95 L1953.05 344.85 L1965.55 345.61 L1979.3 346.24" fill="none" stroke="#0863d8" stroke-width="2.5" stroke-linejoin="round" clip-path="url(#cd2)"/>
<path d="M1588.3 490.31 L1617.05 490.7 L1642.3 491.17 L1664.8 491.72 L1684.8 492.37 L1702.55 493.13 L1718.3 494 L1732.3 494.99 L1745.05 496.14 L1755.3 497.3 L1764.8 498.63 L1773.55 500.12 L1781.55 501.78 L1789.55 503.79 L1797.3 506.12 L1804.05 508.49 L1815.05 512.71 L1818.55 513.89 L1820.8 514.45 L1822.55 514.72 L1824.3 514.76 L1825.8 514.57 L1827.3 514.08 L1828.55 513.38 L1829.8 512.37 L1830.8 511.29 L1832.05 509.53 L1833.05 507.75 L1834.05 505.6 L1835.05 503.03 L1836.8 497.46 L1838.8 489.34 L1840.8 479.58 L1845.3 455.67 L1846.55 449.88 L1847.8 444.93 L1849.3 440.28 L1850.05 438.51 L1850.8 437.09 L1851.55 436.01 L1852.3 435.25 L1853.05 434.77 L1854.05 434.53 L1855.05 434.68 L1856.05 435.14 L1857.05 435.85 L1858.3 437 L1860.3 439.25 L1866.3 446.8 L1869.55 450.59 L1873.3 454.44 L1877.3 457.92 L1881.55 460.99 L1886.05 463.65 L1890.8 465.95 L1896.05 468.01 L1902.55 470.03 L1909.8 471.78 L1918.05 473.32 L1927.3 474.65 L1937.8 475.8 L1949.8 476.81 L1963.55 477.68 L1979.3 478.44" fill="none" stroke="#ee3033" stroke-width="2.5" stroke-linejoin="round" clip-path="url(#cd3)"/>
<path d="M1588.3 616.18 L1654.3 617.94 L1691.8 619.11 L1721.8 620.32 L1734.3 620.97 L1745.3 621.66 L1754.55 622.35 L1762.8 623.08 L1770.55 623.9 L1777.8 624.81 L1785.55 625.97 L1793.05 627.33 L1799.55 628.71 L1810.55 631.29 L1814.3 632.04 L1816.55 632.35 L1818.55 632.48 L1820.3 632.43 L1822.05 632.16 L1823.8 631.6 L1825.3 630.81 L1826.8 629.67 L1828.05 628.37 L1829.3 626.71 L1830.55 624.62 L1831.8 622.03 L1832.8 619.56 L1833.8 616.7 L1834.8 613.45 L1835.8 609.79 L1837.05 604.65 L1838.8 596.55 L1843.3 574.01 L1844.55 568.45 L1845.8 563.65 L1847.3 559.12 L1848.05 557.38 L1848.8 556.01 L1849.55 554.98 L1850.3 554.28 L1851.05 553.89 L1851.8 553.77 L1852.8 554 L1853.8 554.6 L1854.8 555.49 L1856.05 556.93 L1858.05 559.74 L1864.05 569.18 L1867.3 573.91 L1871.05 578.68 L1872.8 580.65 L1874.8 582.72 L1876.8 584.59 L1879.05 586.5 L1881.3 588.21 L1883.55 589.74 L1886.05 591.27 L1888.55 592.63 L1891.05 593.85 L1893.8 595.04 L1897.05 596.28 L1900.3 597.36 L1904.05 598.45 L1907.8 599.39 L1911.8 600.26 L1916.3 601.11 L1925.8 602.51 L1936.55 603.66 L1949.05 604.6 L1963.3 605.32 L1979.3 605.81" fill="none" stroke="#424242" stroke-width="2.45" stroke-linejoin="round" clip-path="url(#cd4)"/>
<line x1="1588.3" y1="172.2" x2="1979.4" y2="172.2" stroke="#000" stroke-width="2.5"/>
<line x1="1588.3" y1="291.5" x2="1979.4" y2="291.5" stroke="#000" stroke-width="2.5"/>
<line x1="1588.3" y1="411.3" x2="1979.4" y2="411.3" stroke="#000" stroke-width="2.5"/>
<line x1="1588.3" y1="531" x2="1979.4" y2="531" stroke="#262626" stroke-width="1.7"/>
<rect x="1588.3" y="52.6" width="391.1" height="597.6" fill="none" stroke="#000" stroke-width="2.5"/>
<path d="M1637.19 172.2V169.75M1686.08 172.2V166.05M1734.96 172.2V169.75M1783.85 172.2V166.05M1832.74 172.2V169.75M1881.62 172.2V166.05M1930.51 172.2V169.75M1637.19 52.6V55.05M1686.08 52.6V58.75M1734.96 52.6V55.05M1783.85 52.6V58.75M1832.74 52.6V55.05M1881.62 52.6V58.75M1930.51 52.6V55.05M1637.19 291.5V289.05M1686.08 291.5V285.35M1734.96 291.5V289.05M1783.85 291.5V285.35M1832.74 291.5V289.05M1881.62 291.5V285.35M1930.51 291.5V289.05M1637.19 411.3V408.85M1686.08 411.3V405.15M1734.96 411.3V408.85M1783.85 411.3V405.15M1832.74 411.3V408.85M1881.62 411.3V405.15M1930.51 411.3V408.85M1637.19 650.2V647.75M1686.08 650.2V644.05M1734.96 650.2V647.75M1783.85 650.2V644.05M1832.74 650.2V647.75M1881.62 650.2V644.05M1930.51 650.2V647.75M1588.3 70.6H1594.45M1979.4 70.6H1973.25M1588.3 100.2H1590.75M1979.4 100.2H1976.95M1588.3 129.8H1594.45M1979.4 129.8H1973.25M1588.3 159.8H1590.75M1979.4 159.8H1976.95M1588.3 178H1590.75M1979.4 178H1976.95M1588.3 207.5H1594.45M1979.4 207.5H1973.25M1588.3 237.6H1590.75M1979.4 237.6H1976.95M1588.3 267.6H1594.45M1979.4 267.6H1973.25M1588.3 297.3H1594.45M1979.4 297.3H1973.25M1588.3 326.9H1590.75M1979.4 326.9H1976.95M1588.3 357.1H1594.45M1979.4 357.1H1973.25M1588.3 386.7H1590.75M1979.4 386.7H1976.95M1588.3 440.8H1594.45M1979.4 440.8H1973.25M1588.3 471H1590.75M1979.4 471H1976.95M1588.3 500.7H1594.45M1979.4 500.7H1973.25M1588.3 552.7H1590.75M1979.4 552.7H1976.95M1588.3 582.5H1594.45M1979.4 582.5H1973.25M1588.3 612.5H1590.75M1979.4 612.5H1976.95M1588.3 642.6H1594.45M1979.4 642.6H1973.25" stroke="#000" stroke-width="2.3" fill="none" stroke-linecap="round"/>
<path d="M1637.19 531V527.8M1686.08 531V524.1M1734.96 531V527.8M1783.85 531V524.1M1832.74 531V527.8M1881.62 531V524.1M1930.51 531V527.8" stroke="#262626" stroke-width="1.7" fill="none" stroke-linecap="round"/>
<text class="t" transform="matrix(1 0 0 1.04 0 -3.08)" x="1580" y="77" font-size="16.5" text-anchor="end">-8x10<tspan dy="-7" font-size="11">5</tspan></text>
<text class="t" transform="matrix(1 0 0 1.04 0 -5.45)" x="1580" y="136.2" font-size="16.5" text-anchor="end">-9x10<tspan dy="-7" font-size="11">5</tspan></text>
<text class="t" transform="matrix(1 0 0 1.04 0 -8.56)" x="1580" y="213.9" font-size="16.5" text-anchor="end">-9x10<tspan dy="-7" font-size="11">5</tspan></text>
<text class="t" transform="matrix(1 0 0 1.04 0 -10.96)" x="1580" y="274" font-size="16.5" text-anchor="end">-1x10<tspan dy="-7" font-size="11">6</tspan></text>
<text class="t" transform="matrix(1 0 0 1.04 0 -12.15)" x="1580" y="303.7" font-size="16.5" text-anchor="end">-9x10<tspan dy="-7" font-size="11">5</tspan></text>
<text class="t" transform="matrix(1 0 0 1.04 0 -14.54)" x="1580" y="363.5" font-size="16.5" text-anchor="end">-1x10<tspan dy="-7" font-size="11">6</tspan></text>
<text class="t" transform="matrix(1 0 0 1.04 0 -17.89)" x="1580" y="447.2" font-size="16.5" text-anchor="end">-9x10<tspan dy="-7" font-size="11">5</tspan></text>
<text class="t" transform="matrix(1 0 0 1.04 0 -20.28)" x="1580" y="507.1" font-size="16.5" text-anchor="end">-1x10<tspan dy="-7" font-size="11">6</tspan></text>
<text class="t" transform="matrix(1 0 0 1.04 0 -23.56)" x="1580" y="588.9" font-size="16.5" text-anchor="end">-8.0x10<tspan dy="-7" font-size="11">5</tspan></text>
<text class="t" transform="matrix(1 0 0 1.04 0 -25.96)" x="1580" y="649" font-size="16.5" text-anchor="end">-8.8x10<tspan dy="-7" font-size="11">5</tspan></text>
<line x1="1593.65" y1="78.9" x2="1637.45" y2="78.9" stroke="#a86cdc" stroke-width="2.5" stroke-linecap="round"/>
<text class="t" transform="matrix(1 0 0 1.04 0 -3.43)" x="1643" y="85.8" font-size="20">1200 nm</text>
<line x1="1594.25" y1="203.5" x2="1637.95" y2="203.5" stroke="#2aa35f" stroke-width="2.5" stroke-linecap="round"/>
<text class="t" transform="matrix(1 0 0 1.04 0 -8.42)" x="1643.8" y="210.4" font-size="20">1100 nm</text>
<line x1="1594.25" y1="325" x2="1637.95" y2="325" stroke="#0863d8" stroke-width="2.5" stroke-linecap="round"/>
<text class="t" transform="matrix(1 0 0 1.04 0 -13.28)" x="1643.8" y="331.9" font-size="20">1000 nm</text>
<line x1="1596.45" y1="437.8" x2="1639.65" y2="437.8" stroke="#ee3033" stroke-width="2.5" stroke-linecap="round"/>
<text class="t" transform="matrix(1 0 0 1.04 0 -17.79)" x="1645.5" y="444.7" font-size="20">900 nm</text>
<line x1="1598.12" y1="548.9" x2="1642.08" y2="548.9" stroke="#424242" stroke-width="2.45" stroke-linecap="round"/>
<text class="t" transform="matrix(1 0 0 1.04 0 -22.23)" x="1648" y="555.8" font-size="20">800 nm</text>
<text class="t" transform="matrix(1 0 0 1.04 0 -26.86)" x="1588.3" y="671.5" font-size="16.6" text-anchor="middle">600</text>
<text class="t" transform="matrix(1 0 0 1.04 0 -26.86)" x="1686.08" y="671.5" font-size="16.6" text-anchor="middle">650</text>
<text class="t" transform="matrix(1 0 0 1.04 0 -26.86)" x="1783.85" y="671.5" font-size="16.6" text-anchor="middle">700</text>
<text class="t" transform="matrix(1 0 0 1.04 0 -26.86)" x="1881.62" y="671.5" font-size="16.6" text-anchor="middle">750</text>
<text class="t" transform="matrix(1 0 0 1.04 0 -26.86)" x="1979.4" y="671.5" font-size="16.6" text-anchor="middle">800</text>
<text class="t" transform="matrix(1 0 0 1.04 0 -28.4)" x="1784.15" y="710" font-size="23.9" text-anchor="middle">Raman shift (cm<tspan dy="-9.6" font-size="16.01">-1</tspan><tspan dy="9.6">)</tspan></text>
<text class="t" transform="matrix(1 0 0 1.04 0 -1.78)" x="1789.55" y="44.6" font-size="25.7" text-anchor="middle">PESRG</text>
<text class="r" transform="matrix(1 0 0 1 0 -0)" x="1546.53" y="28" font-size="36.3">d</text>
<text transform="translate(1533.2 329.3) rotate(-90)" text-anchor="middle" font-size="25.5" font-family="'Liberation Sans', Arial, Helvetica, sans-serif"><tspan font-family="'Liberation Serif', 'Times New Roman', serif">Δ</tspan><tspan font-weight="bold" font-size="25.5">I</tspan></text>
</svg>
</body></html>
